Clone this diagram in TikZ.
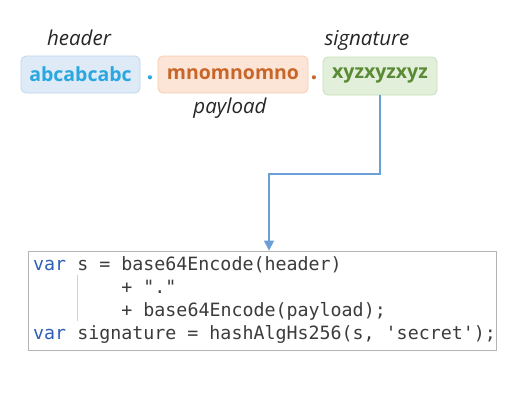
\documentclass[tikz,border=0pt]{standalone}
\usepackage{fontspec}
\usetikzlibrary{arrows.meta}
\newfontfamily\opensans{Open Sans}
\newfontfamily\codefont{DejaVu Sans Mono}
\definecolor{hblue}{HTML}{2AA6E0}
\definecolor{hbluefill}{HTML}{DEEBF7}
\definecolor{hblueline}{HTML}{BDD7EE}
\definecolor{porange}{HTML}{C8662A}
\definecolor{porangefill}{HTML}{FCE4D6}
\definecolor{porangeline}{HTML}{F8CBAD}
\definecolor{sgreen}{HTML}{5A8A36}
\definecolor{sgreenfill}{HTML}{E2EFDA}
\definecolor{sgreenline}{HTML}{C6E0B4}
\definecolor{conn}{HTML}{6A9FD8}
\definecolor{codetext}{HTML}{3C3C3C}
\definecolor{kw}{HTML}{2F5FB5}
\definecolor{codeborder}{HTML}{B4B4B4}
\tikzset{
  part/.style={rounded corners=5pt, line width=0.8pt, minimum height=37pt, inner sep=0pt, font=\opensans\bfseries\fontsize{19.5}{22}\selectfont},
  lbl/.style={font=\opensans\itshape\fontsize{20.5}{23}\selectfont, text=black!85, inner sep=0pt},
  sep/.style={font=\opensans\bfseries\fontsize{24}{26}\selectfont, inner sep=0pt},
  codeline/.style={anchor=base west, inner sep=0pt, font=\codefont\fontsize{18.3}{22}\selectfont, text=codetext},
}
\begin{document}
\begin{tikzpicture}[x=1pt,y=-1pt]
\useasboundingbox[fill=white] (0,0) rectangle (525,400);
% labels
\node[lbl] (lh) at (79,38) {header};
\node[lbl] (ls) at (367,40) {signature};
\node[lbl] (lp) at (230,108) {payload};
% parts
\node[part, draw=hblueline, fill=hbluefill, text=hblue, minimum width=119pt] (h) at (80.5,74.5) {abcabcabc};
\node[sep, text=hblue] (d1) at (150,77.5) {.};
\node[part, draw=porangeline, fill=porangefill, text=porange, minimum width=150pt] (p) at (233,74.5) {mnomnomno};
\node[sep, text=porange] (d2) at (314,77.5) {.};
\node[part, draw=sgreenline, fill=sgreenfill, text=sgreen, minimum width=114pt, minimum height=38pt] (s) at (380,76) {xyzxyzxyz};
% code box
\node[draw=codeborder, line width=0.8pt, fill=white, minimum width=468pt, minimum height=99pt, inner sep=0pt] (code) at (262,300.5) {};
\coordinate (c1) at (33,270);
\coordinate (c2) at (121.2,293);
\coordinate (c3) at (121.2,316);
\coordinate (c4) at (33,339);
\node[codeline] (l1) at (c1) {\textcolor{kw}{var} s = base64Encode(header)};
\node[codeline] (l2) at (c2) {+ "."};
\node[codeline] (l3) at (c3) {+ base64Encode(payload);};
\node[codeline] (l4) at (c4) {\textcolor{kw}{var} signature = hashAlgHs256(s, 'secret');};
\coordinate (g1) at (77.5,275);
\coordinate (g2) at (77.5,321);
\draw[black!18, line width=0.6pt] (g1) -- (g2);
% connector
\coordinate (k1) at (380,174);
\coordinate (k2) at (269,174);
\draw[conn, line width=1.1pt, -{Triangle[length=10pt,width=10pt]}] (s.south) -- (k1) -- (k2) -- (k2 |- code.north);
\end{tikzpicture}
\end{document}
